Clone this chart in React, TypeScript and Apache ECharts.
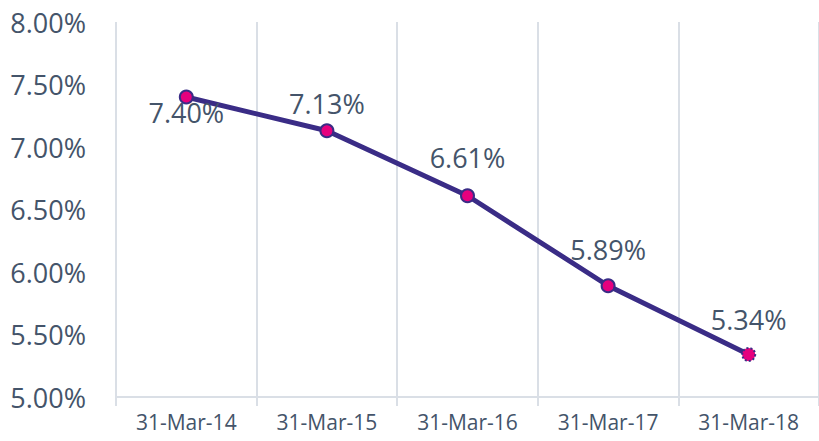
import React, { useEffect, useRef } from "react";
import * as echarts from "echarts";

const categories = ["31-Mar-14", "31-Mar-15", "31-Mar-16", "31-Mar-17", "31-Mar-18"];
const values = [7.4, 7.13, 6.61, 5.89, 5.34];
const labelPositions = ["bottom", "top", "top", "top", "top"];
const labelDistances = [-6, 6, 17, 15, 14];
const yMin = 5;
const yMax = 8;
const yInterval = 0.5;

const TEXT = "#44546A";
const GRID = "#DADFE6";
const LINE = "#3A2C86";
const MARK = "#E6007E";
const FONT = "Open Sans";

export default function App() {
  const ref = useRef<HTMLDivElement>(null);
  useEffect(() => {
    if (!ref.current) return;
    const chart = echarts.init(ref.current, null, { renderer: "svg" });
    chart.setOption({
      animation: false,
      backgroundColor: "#ffffff",
      grid: { left: 116, right: -2, top: 22, bottom: 44, containLabel: false },
      xAxis: {
        type: "category",
        data: categories,
        boundaryGap: true,
        axisLine: { show: true, lineStyle: { color: GRID, width: 2 } },
        axisTick: { show: true, length: 9, lineStyle: { color: GRID, width: 2 } },
        splitLine: { show: true, lineStyle: { color: GRID, width: 2 } },
        axisLabel: { color: TEXT, fontFamily: FONT, fontSize: 21, margin: 14 },
      },
      yAxis: {
        type: "value",
        min: yMin,
        max: yMax,
        interval: yInterval,
        axisLine: { show: false },
        axisTick: { show: false },
        splitLine: { show: false },
        axisLabel: {
          color: TEXT,
          fontFamily: FONT,
          fontSize: 27,
          margin: 30,
          formatter: (v: number) => v.toFixed(2) + "%",
        },
      },
      series: [
        {
          type: "line",
          data: values.map((v, i) => ({
            value: v,
            label: {
              position: labelPositions[i],
              distance: labelDistances[i],
            },
            itemStyle:
              i === values.length - 1
                ? { color: MARK, borderColor: LINE, borderWidth: 2, borderType: "dotted" }
                : undefined,
          })),
          lineStyle: { color: LINE, width: 5 },
          symbol: "circle",
          symbolSize: 13,
          itemStyle: { color: MARK, borderColor: LINE, borderWidth: 2 },
          label: {
            show: true,
            color: TEXT,
            fontFamily: FONT,
            fontSize: 27,
            formatter: (p: any) => p.value.toFixed(2) + "%",
          },
        },
      ],
    });
    return () => chart.dispose();
  }, []);
  return (
    <div
      ref={ref}
      style={{ position: "fixed", left: 0, top: 0, width: 819, height: 441 }}
    />
  );
}
